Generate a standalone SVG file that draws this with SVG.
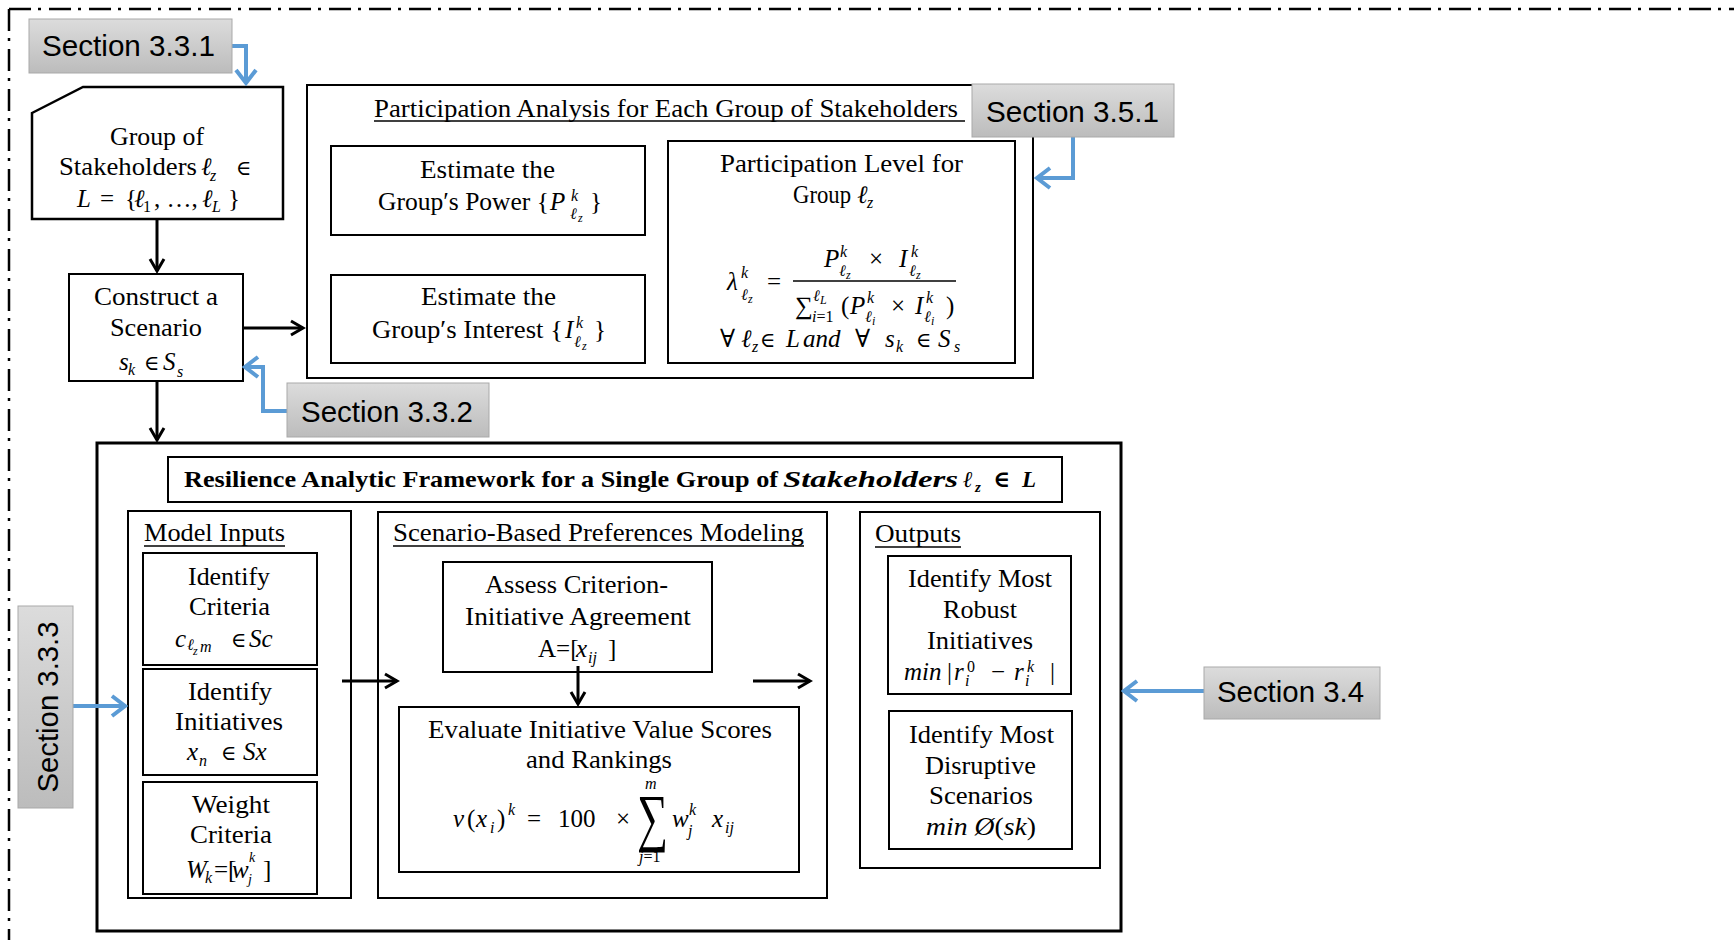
<svg xmlns="http://www.w3.org/2000/svg" width="1734" height="940" viewBox="0 0 1734 940">
<defs>
<linearGradient id="secGrad" x1="0" y1="0" x2="0" y2="1">
<stop offset="0" stop-color="#dcdcdc"/><stop offset="1" stop-color="#bcbcbc"/>
</linearGradient>
<marker id="ah" markerUnits="userSpaceOnUse" markerWidth="18" markerHeight="20" viewBox="0 0 18 20" refX="15" refY="10" orient="auto">
<path d="M3,3 L15,10 L3,17" fill="none" stroke="#000" stroke-width="3"/>
</marker>
<marker id="ahb" markerUnits="userSpaceOnUse" markerWidth="20" markerHeight="26" viewBox="0 0 20 26" refX="17" refY="13" orient="auto">
<path d="M4,3 L17,13 L4,23" fill="none" stroke="#5b9bd5" stroke-width="4"/>
</marker>
</defs>
<style>
.box{fill:#fff;stroke:#000;stroke-width:2}
.sec{fill:url(#secGrad);stroke:#a9a9a9;stroke-width:1}
.st{font-family:"Liberation Sans",Arial,sans-serif;font-size:30px;fill:#000}
.t{font-family:"Liberation Serif","DejaVu Serif",serif;font-size:25px;fill:#000}
.b{font-weight:bold;font-size:23px}
.m{font-style:italic}
.s{font-size:16px}
.ss{font-size:12px}
.el{font-size:21px}
.c{text-anchor:middle}
.ln{stroke:#000;stroke-width:3;fill:none}
.bl{stroke:#5b9bd5;stroke-width:4;fill:none}
.ul{stroke:#000;stroke-width:1.5}
.frame{stroke:#000;stroke-width:2.5;fill:none;stroke-dasharray:22 7 3 8}
</style>

<g id="frame">
<line class="frame" x1="9" y1="9" x2="1734" y2="9"/>
<line class="frame" x1="9" y1="9" x2="9" y2="940"/>
</g>

<g id="participation-panel">
<rect class="box" x="307" y="85" width="726" height="293"/>
<text class="t" x="374" y="117" textLength="584" lengthAdjust="spacingAndGlyphs">Participation Analysis for Each Group of Stakeholders</text>
<line class="ul" x1="374" y1="121" x2="965" y2="121"/>
</g>

<g id="resilience-panel">
<rect class="box" x="97" y="443" width="1024" height="488" style="stroke-width:3"/>
</g>

<g id="title">
<rect class="box" x="168" y="457" width="894" height="45"/>
<text class="t b" x="184" y="487" textLength="594" lengthAdjust="spacingAndGlyphs">Resilience Analytic Framework for a Single Group of</text>
<text class="t b m" x="783" y="487" textLength="175" lengthAdjust="spacingAndGlyphs">Stakeholders</text>
<text class="t b m" x="963" y="487">ℓ</text>
<text class="t b m" x="975" y="492" style="font-size:15px">z</text>
<text class="t b" x="993" y="487">∈</text>
<text class="t b m" x="1022" y="487">L</text>
</g>

<g id="group-stakeholders">
<polygon class="box" points="32,113 83,87 283,87 283,219 32,219" style="stroke-width:2.5"/>
<text class="t" x="110" y="145" textLength="94" lengthAdjust="spacingAndGlyphs">Group of</text>
<text class="t" x="59" y="175" textLength="138" lengthAdjust="spacingAndGlyphs">Stakeholders</text>
<text class="t m" x="201" y="175">ℓ</text>
<text class="t m s" x="210" y="181">z</text>
<text class="t el" x="236" y="175">∈</text>
<text class="t" y="207"><tspan class="m" x="77">L</tspan><tspan x="100">=</tspan><tspan x="125">{</tspan><tspan class="m" x="134">ℓ</tspan><tspan class="s" x="143" dy="5">1</tspan><tspan x="154" dy="-5">, …,</tspan><tspan class="m" x="202">ℓ</tspan><tspan class="m s" x="212" dy="5">L</tspan><tspan x="228" dy="-5">}</tspan></text>
</g>

<g id="construct-scenario">
<rect class="box" x="69" y="274" width="174" height="107"/>
<text class="t" x="94" y="305" textLength="124" lengthAdjust="spacingAndGlyphs">Construct a</text>
<text class="t" x="110" y="336" textLength="92" lengthAdjust="spacingAndGlyphs">Scenario</text>
<text class="t" y="370"><tspan class="m" x="119">s</tspan><tspan class="m s" x="128" dy="5">k</tspan><tspan class="el" x="144" dy="-5">∈</tspan><tspan class="m" x="163">S</tspan><tspan class="m s" x="177" dy="7">s</tspan></text>
</g>

<g id="estimate-power">
<rect class="box" x="331" y="146" width="314" height="89"/>
<text class="t" x="420" y="178" textLength="135" lengthAdjust="spacingAndGlyphs">Estimate the</text>
<text class="t" x="378" y="210" textLength="171" lengthAdjust="spacingAndGlyphs">Group′s Power {</text>
<text class="t m" x="550" y="210">P</text>
<text class="t m s" x="571" y="201">k</text>
<text class="t m s" x="570" y="219">ℓ</text>
<text class="t m ss" x="578" y="222">z</text>
<text class="t" x="590" y="210">}</text>
</g>

<g id="estimate-interest">
<rect class="box" x="331" y="275" width="314" height="88"/>
<text class="t" x="421" y="305" textLength="135" lengthAdjust="spacingAndGlyphs">Estimate the</text>
<text class="t" x="372" y="338" textLength="191" lengthAdjust="spacingAndGlyphs">Group′s Interest {</text>
<text class="t m" x="565" y="338">I</text>
<text class="t m s" x="576" y="328">k</text>
<text class="t m s" x="574" y="347">ℓ</text>
<text class="t m ss" x="582" y="350">z</text>
<text class="t" x="594" y="338">}</text>
</g>

<g id="participation-level">
<rect class="box" x="668" y="141" width="347" height="222"/>
<text class="t" x="720" y="172" textLength="243" lengthAdjust="spacingAndGlyphs">Participation Level for</text>
<text class="t" x="793" y="203" textLength="58" lengthAdjust="spacingAndGlyphs">Group</text>
<text class="t m" x="857" y="203">ℓ</text>
<text class="t m s" x="867" y="208">z</text>
<text class="t m" x="727" y="290">λ</text>
<text class="t m s" x="741" y="278">k</text>
<text class="t m s" x="741" y="300">ℓ</text>
<text class="t m ss" x="748" y="303">z</text>
<text class="t" x="767" y="290">=</text>
<line x1="793" y1="281" x2="956" y2="281" stroke="#000" stroke-width="1.5"/>
<text class="t m" x="824" y="267">P</text>
<text class="t m s" x="840" y="257">k</text>
<text class="t m s" x="839" y="276">ℓ</text>
<text class="t m ss" x="846" y="279">z</text>
<text class="t" x="869" y="267">×</text>
<text class="t m" x="899" y="267">I</text>
<text class="t m s" x="911" y="257">k</text>
<text class="t m s" x="909" y="276">ℓ</text>
<text class="t m ss" x="916" y="279">z</text>
<text class="t" x="795" y="314">∑</text>
<text class="t m s" x="813" y="301">ℓ</text>
<text class="t m ss" x="820" y="304">L</text>
<text class="t s" x="812" y="322"><tspan class="m">i</tspan>=1</text>
<text class="t" x="841" y="314">(</text>
<text class="t m" x="850" y="314">P</text>
<text class="t m s" x="867" y="303">k</text>
<text class="t m s" x="865" y="322">ℓ</text>
<text class="t m ss" x="872" y="325">i</text>
<text class="t" x="891" y="314">×</text>
<text class="t m" x="915" y="314">I</text>
<text class="t m s" x="926" y="303">k</text>
<text class="t m s" x="924" y="322">ℓ</text>
<text class="t m ss" x="931" y="325">i</text>
<text class="t" x="946" y="314">)</text>
<text class="t" y="347"><tspan x="720">∀</tspan><tspan class="m" x="741">ℓ</tspan><tspan class="m s" x="752" dy="5">z</tspan><tspan class="el" x="760" dy="-5">∈</tspan><tspan class="m" x="786">L</tspan><tspan class="m" x="803">and</tspan><tspan x="855">∀</tspan><tspan class="m" x="885">s</tspan><tspan class="m s" x="896" dy="5">k</tspan><tspan class="el" x="916" dy="-5">∈</tspan><tspan class="m" x="938">S</tspan><tspan class="m s" x="954" dy="5">s</tspan></text>
</g>

<g id="model-inputs">
<rect class="box" x="128" y="511" width="223" height="387"/>
<text class="t" x="144" y="541" textLength="141" lengthAdjust="spacingAndGlyphs">Model Inputs</text>
<line class="ul" x1="144" y1="546" x2="285" y2="546"/>
</g>

<g id="identify-criteria">
<rect class="box" x="143" y="553" width="174" height="112"/>
<text class="t" x="188" y="585" textLength="82" lengthAdjust="spacingAndGlyphs">Identify</text>
<text class="t" x="189" y="615" textLength="81" lengthAdjust="spacingAndGlyphs">Criteria</text>
<text class="t m" x="175" y="647">c</text>
<text class="t m s" x="187" y="650">ℓ</text>
<text class="t m ss" x="193" y="655">z</text>
<text class="t m s" x="200" y="652">m</text>
<text class="t el" x="231" y="647">∈</text>
<text class="t m" x="249" y="647">Sc</text>
</g>

<g id="identify-initiatives">
<rect class="box" x="143" y="669" width="174" height="106"/>
<text class="t" x="188" y="700" textLength="84" lengthAdjust="spacingAndGlyphs">Identify</text>
<text class="t" x="175" y="730" textLength="108" lengthAdjust="spacingAndGlyphs">Initiatives</text>
<text class="t m" x="187" y="760">x</text>
<text class="t m s" x="199" y="766">n</text>
<text class="t el" x="221" y="760">∈</text>
<text class="t m" x="243" y="760">Sx</text>
</g>

<g id="weight-criteria">
<rect class="box" x="143" y="782" width="174" height="112"/>
<text class="t" x="192" y="813" textLength="78" lengthAdjust="spacingAndGlyphs">Weight</text>
<text class="t" x="190" y="843" textLength="82" lengthAdjust="spacingAndGlyphs">Criteria</text>
<text class="t m" x="186" y="878">W</text>
<text class="t m s" x="205" y="883">k</text>
<text class="t" x="214" y="878">=[</text>
<text class="t m" x="232" y="878">w</text>
<text class="t m" x="249" y="862" style="font-size:14px">k</text>
<text class="t m" x="248" y="884" style="font-size:14px">j</text>
<text class="t" x="263" y="878">]</text>
</g>

<g id="scenario-modeling">
<rect class="box" x="378" y="512" width="449" height="386"/>
<text class="t" x="393" y="541" textLength="411" lengthAdjust="spacingAndGlyphs">Scenario-Based Preferences Modeling</text>
<line class="ul" x1="393" y1="546" x2="804" y2="546"/>
</g>

<g id="assess-agreement">
<rect class="box" x="443" y="562" width="269" height="110"/>
<text class="t" x="485" y="593" textLength="183" lengthAdjust="spacingAndGlyphs">Assess Criterion-</text>
<text class="t" x="465" y="625" textLength="226" lengthAdjust="spacingAndGlyphs">Initiative Agreement</text>
<text class="t" x="538" y="657">A=[</text>
<text class="t m" x="576" y="657">x</text>
<text class="t m s" x="588" y="663">ij</text>
<text class="t" x="608" y="657">]</text>
</g>

<g id="evaluate-scores">
<rect class="box" x="399" y="707" width="400" height="165"/>
<text class="t" x="428" y="738" textLength="344" lengthAdjust="spacingAndGlyphs">Evaluate Initiative Value Scores</text>
<text class="t" x="526" y="768" textLength="146" lengthAdjust="spacingAndGlyphs">and Rankings</text>
<text class="t m" x="453" y="827">v</text>
<text class="t" x="467" y="827">(</text>
<text class="t m" x="476" y="827">x</text>
<text class="t m s" x="490" y="833">i</text>
<text class="t" x="497" y="827">)</text>
<text class="t m s" x="508" y="815">k</text>
<text class="t" x="527" y="827">=</text>
<text class="t" x="558" y="827">100</text>
<text class="t" x="616" y="827">×</text>
<text class="t" x="637" y="839" style="font-size:64px" textLength="31" lengthAdjust="spacingAndGlyphs">∑</text>
<text class="t m s" x="645" y="789">m</text>
<text class="t s" x="639" y="862"><tspan class="m">j</tspan>=1</text>
<text class="t m" x="672" y="827">w</text>
<text class="t m s" x="689" y="815">k</text>
<text class="t m s" x="688" y="836">j</text>
<text class="t m" x="712" y="827">x</text>
<text class="t m s" x="725" y="833">ij</text>
</g>

<g id="outputs">
<rect class="box" x="860" y="512" width="240" height="356"/>
<text class="t" x="875" y="542" textLength="86" lengthAdjust="spacingAndGlyphs">Outputs</text>
<line class="ul" x1="875" y1="547" x2="961" y2="547"/>
</g>

<g id="robust-initiatives">
<rect class="box" x="888" y="556" width="183" height="138"/>
<text class="t" x="908" y="587" textLength="144" lengthAdjust="spacingAndGlyphs">Identify Most</text>
<text class="t" x="943" y="618" textLength="74" lengthAdjust="spacingAndGlyphs">Robust</text>
<text class="t" x="927" y="649" textLength="106" lengthAdjust="spacingAndGlyphs">Initiatives</text>
<text class="t m" x="904" y="680">min</text>
<text class="t" x="947" y="680">|</text>
<text class="t m" x="954" y="680">r</text>
<text class="t m s" x="965" y="686">i</text>
<text class="t s" x="967" y="672">0</text>
<text class="t" x="991" y="680">−</text>
<text class="t m" x="1014" y="680">r</text>
<text class="t m s" x="1025" y="686">i</text>
<text class="t m s" x="1027" y="672">k</text>
<text class="t" x="1050" y="680">|</text>
</g>

<g id="disruptive-scenarios">
<rect class="box" x="889" y="711" width="183" height="138"/>
<text class="t" x="909" y="743" textLength="145" lengthAdjust="spacingAndGlyphs">Identify Most</text>
<text class="t" x="925" y="774" textLength="111" lengthAdjust="spacingAndGlyphs">Disruptive</text>
<text class="t" x="929" y="804" textLength="104" lengthAdjust="spacingAndGlyphs">Scenarios</text>
<text class="t" x="926" y="835" textLength="110" lengthAdjust="spacingAndGlyphs"><tspan class="m">min Ø</tspan>(<tspan class="m">sk</tspan>)</text>
</g>

<g id="connectors">
<path class="ln" d="M157,219 V271" marker-end="url(#ah)"/>
<path class="ln" d="M157,381 V440" marker-end="url(#ah)"/>
<path class="ln" d="M243,328 H303" marker-end="url(#ah)"/>
<path class="ln" d="M578,666 V704" marker-end="url(#ah)"/>
<path class="ln" d="M342,681 H397" marker-end="url(#ah)"/>
<path class="ln" d="M753,681 H810" marker-end="url(#ah)"/>
<path class="bl" d="M232,46 H246 V83" marker-end="url(#ahb)"/>
<path class="bl" d="M1073,137 V178 H1037" marker-end="url(#ahb)"/>
<path class="bl" d="M287,411 H263 V367 H245" marker-end="url(#ahb)"/>
<path class="bl" d="M73,706 H125" marker-end="url(#ahb)"/>
<path class="bl" d="M1204,691 H1124" marker-end="url(#ahb)"/>
</g>

<g id="section-3-3-1">
<rect class="sec" x="29" y="19" width="203" height="54"/>
<text class="st" x="42" y="56" textLength="173" lengthAdjust="spacingAndGlyphs">Section 3.3.1</text>
</g>
<g id="section-3-3-2">
<rect class="sec" x="287" y="383" width="202" height="54"/>
<text class="st" x="301" y="422" textLength="172" lengthAdjust="spacingAndGlyphs">Section 3.3.2</text>
</g>
<g id="section-3-5-1">
<rect class="sec" x="972" y="84" width="202" height="53"/>
<text class="st" x="986" y="122" textLength="173" lengthAdjust="spacingAndGlyphs">Section 3.5.1</text>
</g>
<g id="section-3-3-3">
<rect class="sec" x="18" y="606" width="55" height="202"/>
<text class="st c" transform="translate(58,707) rotate(-90)" x="0" y="0" textLength="171" lengthAdjust="spacingAndGlyphs">Section 3.3.3</text>
</g>
<g id="section-3-4">
<rect class="sec" x="1204" y="667" width="176" height="52"/>
<text class="st" x="1217" y="702" textLength="147" lengthAdjust="spacingAndGlyphs">Section 3.4</text>
</g>
</svg>
